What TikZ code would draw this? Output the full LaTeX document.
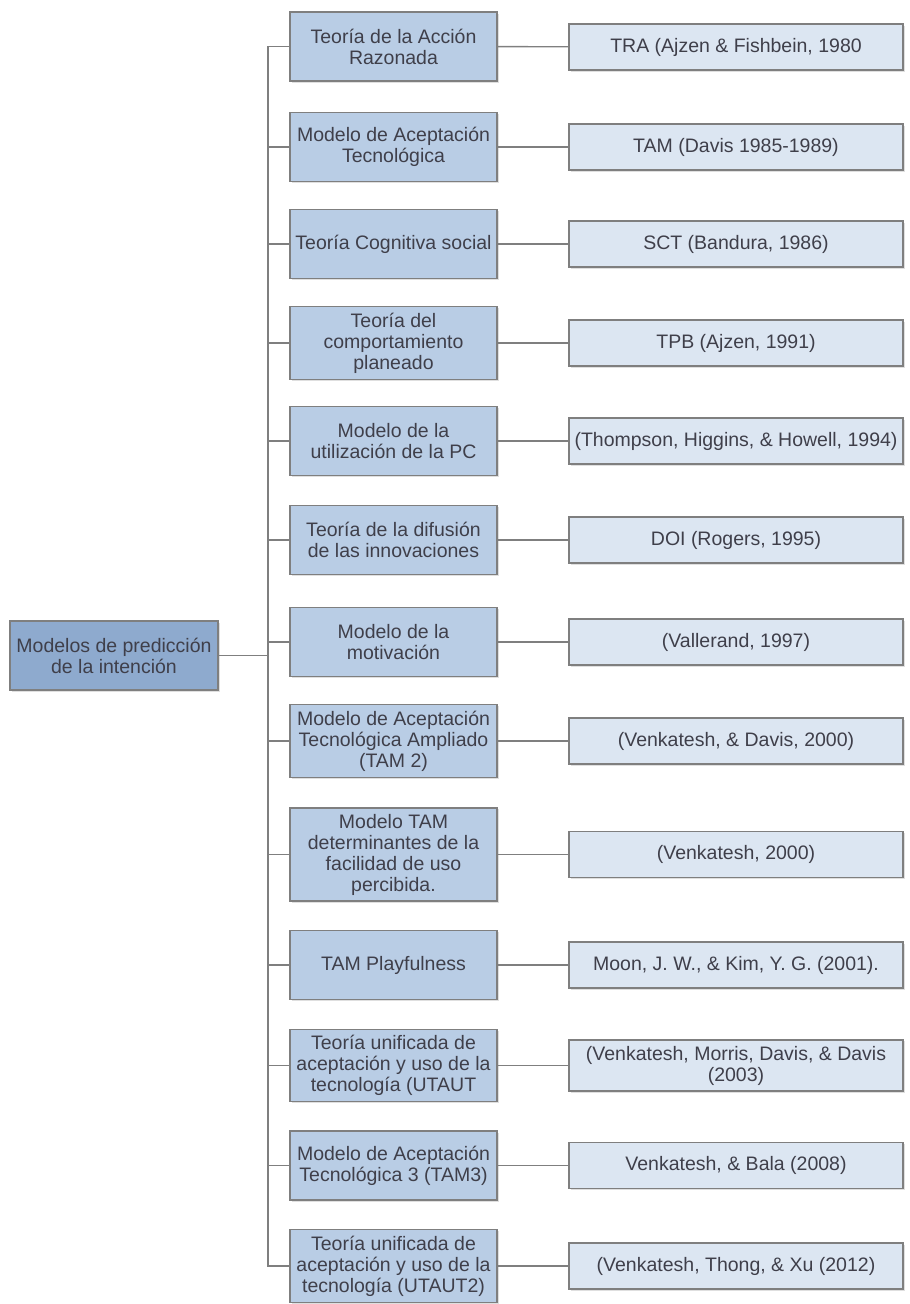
\documentclass[tikz,border=0pt]{standalone}
\usepackage{fontspec}
\setmainfont{Liberation Sans}
\usepackage{tikz}
\usetikzlibrary{shapes,positioning,shadows}
\definecolor{rootblue}{HTML}{8EAACE}
\definecolor{midblue}{HTML}{B9CDE5}
\definecolor{refblue}{HTML}{DCE6F2}
\definecolor{boxline}{HTML}{7F7F7F}
\definecolor{txtgray}{HTML}{3F3F4A}
\tikzstyle{box} = [rectangle, draw=boxline, line width=1.3pt, text=txtgray,
    align=center, inner xsep=2pt, inner ysep=6pt,
    font=\fontsize{19.5}{21}\selectfont,
    drop shadow={shadow xshift=1.5pt, shadow yshift=-1.5pt, opacity=0.25}]
\tikzstyle{root} = [box, fill=rootblue, minimum width=208pt, minimum height=69pt]
\tikzstyle{model} = [box, fill=midblue, minimum width=207pt, minimum height=69pt]
\tikzstyle{source} = [box, fill=refblue, minimum width=334pt, minimum height=46pt]
\tikzstyle{line} = [draw, boxline, line width=1.4pt]

\begin{document}
\begin{tikzpicture}[x=1pt, y=-1pt]
    \useasboundingbox (0,0) rectangle (910,1304);
    % Place nodes
    \node [root] (root) at (114,655.5) {Modelos de predicción\\de la intención};
    \coordinate (fork) at (268,655.5);
    \node [model] (tra) at (393.5,46.5) {Teoría de la Acción\\Razonada};
    \node [model] (tam) at (393.5,147) {Modelo de Aceptación\\Tecnológica};
    \node [model] (sct) at (393.5,244) {Teoría Cognitiva social};
    \node [model] (tpb) at (393.5,343) {Teoría del\\comportamiento\\planeado};
    \node [model] (mpcu) at (393.5,441) {Modelo de la\\utilización de la PC};
    \node [model] (doi) at (393.5,540) {Teoría de la difusión\\de las innovaciones};
    \node [model] (mm) at (393.5,642) {Modelo de la\\motivación};
    \node [model] (tamtwo) at (393.5,741) {Modelo de Aceptación\\Tecnológica Ampliado\\(TAM 2)};
    \node [model] (tamdet) at (393.5,854.5) {Modelo TAM\\determinantes de la\\facilidad de uso\\percibida.};
    \node [model] (tamplay) at (393.5,965) {TAM Playfulness};
    \node [model] (utaut) at (393.5,1065.5) {Teoría unificada de\\aceptación y uso de la\\tecnología (UTAUT};
    \node [model] (tamthree) at (393.5,1165.5) {Modelo de Aceptación\\Tecnológica 3 (TAM3)};
    \node [model] (utauttwo) at (393.5,1266) {Teoría unificada de\\aceptación y uso de la\\tecnología (UTAUT2)};
    \node [source] (tra_ref) at (736,47) {TRA (Ajzen \& Fishbein, 1980};
    \node [source] (tam_ref) at (736,147) {TAM (Davis 1985-1989)};
    \node [source] (sct_ref) at (736,244) {SCT (Bandura, 1986)};
    \node [source] (tpb_ref) at (736,343) {TPB (Ajzen, 1991)};
    \node [source] (mpcu_ref) at (736,441) {(Thompson, Higgins, \& Howell, 1994)};
    \node [source] (doi_ref) at (736,540) {DOI (Rogers, 1995)};
    \node [source] (mm_ref) at (736,642) {(Vallerand, 1997)};
    \node [source] (tamtwo_ref) at (736,741) {(Venkatesh, \& Davis, 2000)};
    \node [source] (tamdet_ref) at (736,854.5) {(Venkatesh, 2000)};
    \node [source] (tamplay_ref) at (736,965) {Moon, J. W., \& Kim, Y. G. (2001).};
    \node [source] (utaut_ref) at (736,1065.5) {(Venkatesh, Morris, Davis, \& Davis\\(2003)};
    \node [source] (tamthree_ref) at (736,1165.5) {Venkatesh, \& Bala (2008)};
    \node [source] (utauttwo_ref) at (736,1266) {(Venkatesh, Thong, \& Xu (2012)};
    % Draw edges
    \path [line] (root.east) -- (fork);
    \path [line] (fork) |- (tra.west);
    \path [line] (fork) |- (tam.west);
    \path [line] (fork) |- (sct.west);
    \path [line] (fork) |- (tpb.west);
    \path [line] (fork) |- (mpcu.west);
    \path [line] (fork) |- (doi.west);
    \path [line] (fork) |- (mm.west);
    \path [line] (fork) |- (tamtwo.west);
    \path [line] (fork) |- (tamdet.west);
    \path [line] (fork) |- (tamplay.west);
    \path [line] (fork) |- (utaut.west);
    \path [line] (fork) |- (tamthree.west);
    \path [line] (fork) |- (utauttwo.west);
    \path [line] (tra) -- (tra_ref);
    \path [line] (tam) -- (tam_ref);
    \path [line] (sct) -- (sct_ref);
    \path [line] (tpb) -- (tpb_ref);
    \path [line] (mpcu) -- (mpcu_ref);
    \path [line] (doi) -- (doi_ref);
    \path [line] (mm) -- (mm_ref);
    \path [line] (tamtwo) -- (tamtwo_ref);
    \path [line] (tamdet) -- (tamdet_ref);
    \path [line] (tamplay) -- (tamplay_ref);
    \path [line] (utaut) -- (utaut_ref);
    \path [line] (tamthree) -- (tamthree_ref);
    \path [line] (utauttwo) -- (utauttwo_ref);
\end{tikzpicture}
\end{document}
